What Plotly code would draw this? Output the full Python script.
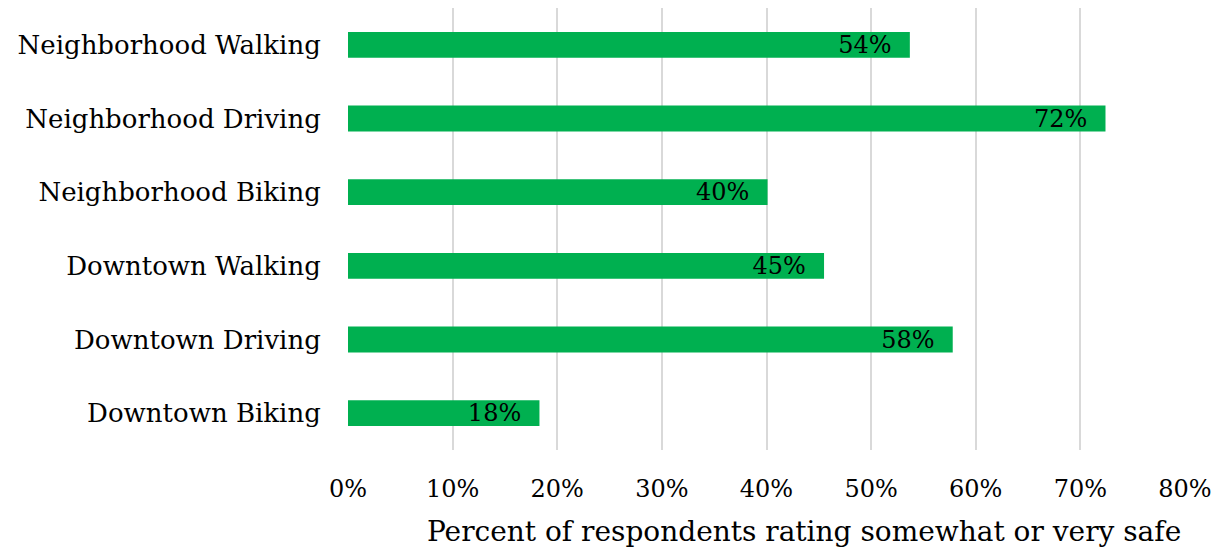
import plotly.graph_objects as go

categories = ["Neighborhood Walking", "Neighborhood Driving", "Neighborhood Biking",
              "Downtown Walking", "Downtown Driving", "Downtown Biking"]
values = [0.537, 0.724, 0.401, 0.455, 0.578, 0.183]
labels = ["54%", "72%", "40%", "45%", "58%", "18%"]
tick_vals = [0, 0.1, 0.2, 0.3, 0.4, 0.5, 0.6, 0.7, 0.8]
tick_text = ["0%", "10%", "20%", "30%", "40%", "50%", "60%", "70%", "80%"]
x_title = "Percent of respondents rating somewhat or very safe"

FONT = "Palatino Linotype, Book Antiqua, Palatino, DejaVu Serif, serif"

fig = go.Figure(go.Bar(
    y=categories, x=values, orientation="h",
    marker=dict(color="#00B050", line=dict(width=0)),
    width=0.35,
    text=[t + "\u00a0\u00a0" for t in labels],
    textposition="inside", insidetextanchor="end",
    textfont=dict(family=FONT, size=24, color="black"),
    constraintext="none",
    hoverinfo="skip",
))

fig.update_layout(
    width=1221, height=554,
    margin=dict(l=340, r=44, t=0, b=112),
    plot_bgcolor="white", paper_bgcolor="white",
    showlegend=False,
    font=dict(family=FONT, size=26, color="black"),
    annotations=[dict(
        text=x_title, xref="paper", yref="paper",
        x=0.545, y=-0.1855, xanchor="center", yanchor="middle",
        showarrow=False, font=dict(family=FONT, size=28, color="black"),
    )],
)
fig.update_xaxes(
    range=[0, 0.8], tickvals=tick_vals, ticktext=tick_text,
    showgrid=True, gridcolor="#d9d9d9", gridwidth=2,
    zeroline=False, showline=False,
    ticks="outside", ticklen=17, tickcolor="rgba(0,0,0,0)",
    tickfont=dict(family=FONT, size=24, color="black"),
    automargin=False,
    fixedrange=True,
)
fig.update_yaxes(
    categoryorder="array", categoryarray=categories[::-1],
    showgrid=False, zeroline=False, showline=False,
    ticks="outside", ticklen=21, tickcolor="rgba(0,0,0,0)",
    tickfont=dict(family=FONT, size=26, color="black"),
    automargin=False,
    fixedrange=True,
)

fig.write_html("out.html")
